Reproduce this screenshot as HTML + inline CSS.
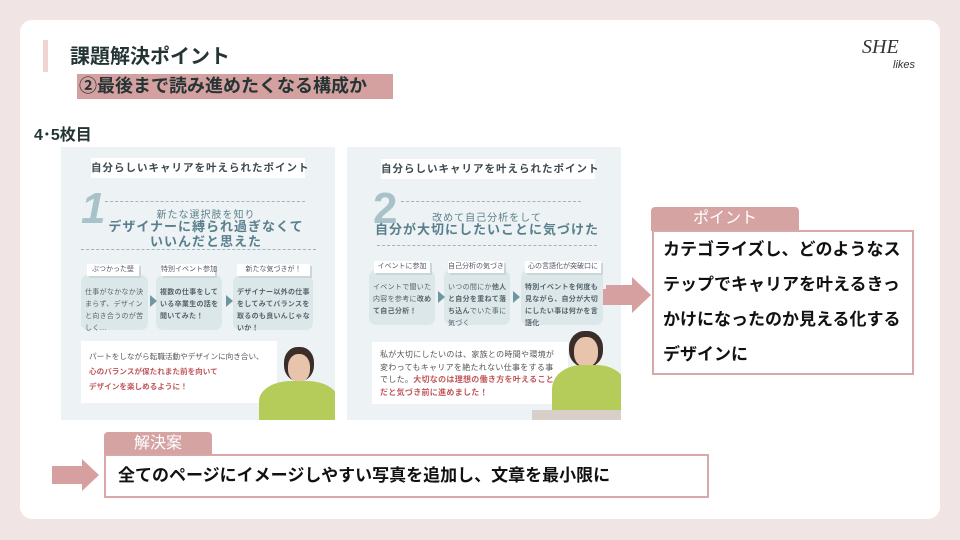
<!DOCTYPE html>
<html><head><meta charset="utf-8"><style>
*{margin:0;padding:0;box-sizing:border-box}
body{width:960px;height:540px;background:#f1e4e4;position:relative;overflow:hidden;font-family:"Liberation Sans","Noto Sans CJK JP",sans-serif}
.a{position:absolute;white-space:nowrap}
.card{left:20px;top:20px;width:920px;height:499px;background:#fff;border-radius:12px}
.img{background:#edf3f5;overflow:hidden}
.tb{background:#fff;color:#3e4a50;font-weight:bold;font-size:10.5px;text-align:center;line-height:20px;letter-spacing:1px}
.dash{border-top:1.5px dashed #9ab7c0;height:0}
.num{font-size:44px;font-weight:bold;font-style:italic;color:#a9c2ca;line-height:1}
.s1{font-size:10px;color:#5f7f8a;text-align:center;letter-spacing:1px}
.s2{font-size:13px;font-weight:bold;color:#5a7f8c;text-align:center;letter-spacing:1px;line-height:15px}
.bx{background:#dce7ea;border-radius:7px;font-size:7px;color:#55646a;line-height:12px;padding:12px 2px 0 4px;white-space:normal;letter-spacing:.3px}
.lb{background:#fff;font-size:7px;color:#556;text-align:center;line-height:12px;box-shadow:2px 2px 0 #c9d6da}
.tri{width:0;height:0;border-top:6px solid transparent;border-bottom:6px solid transparent;border-left:7px solid #6f96a3}
.wb{background:#fff;font-size:8px;color:#555;line-height:15px;padding:8px 8px;letter-spacing:.3px;white-space:normal}
.red{color:#c0565a;font-weight:bold}
</style></head><body>
<div class="a card"></div>
<div class="a" style="left:43px;top:40px;width:5px;height:32px;background:#f0d3d3"></div>
<div class="a" style="left:70px;top:40px;font-size:20px;font-weight:bold;color:#253535">課題解決ポイント</div>
<div class="a" style="left:77px;top:74px;width:316px;height:25px;background:#d4a0a0"></div>
<div class="a" style="left:79px;top:75px;font-size:18px;font-weight:bold;color:#253535;line-height:23px">②最後まで読み進めたくなる構成か</div>
<div class="a" style="left:34px;top:121px;font-size:16px;font-weight:bold;color:#253535">4･5枚目</div>
<div class="a" style="left:862px;top:36px;font-size:20px;font-style:italic;font-family:'Liberation Serif',serif;color:#333">SHE</div>
<div class="a" style="left:893px;top:59px;font-size:11px;color:#333;font-style:italic">likes</div>

<!-- image 1 -->
<div class="a img" style="left:61px;top:147px;width:274px;height:273px">
 <div class="a tb" style="left:30px;top:11px;width:214px">自分らしいキャリアを叶えられたポイント</div>
 <div class="a num" style="left:20px;top:40px">1</div>
 <div class="a dash" style="left:44px;top:54px;width:200px"></div>
 <div class="a s1" style="left:40px;top:59px;width:210px">新たな選択肢を知り</div>
 <div class="a s2" style="left:30px;top:72px;width:230px">デザイナーに縛られ過ぎなくて<br>いいんだと思えた</div>
 <div class="a dash" style="left:20px;top:102px;width:235px"></div>
 <div class="a bx" style="left:20px;top:128px;width:67px;height:55px">仕事がなかなか決まらず、デザインと向き合うのが苦しく…</div>
 <div class="a bx" style="left:95px;top:128px;width:66px;height:55px;font-weight:bold">複数の仕事をしている卒業生の話を聞いてみた！</div>
 <div class="a bx" style="left:172px;top:128px;width:80px;height:55px;font-weight:bold">デザイナー以外の仕事をしてみてバランスを取るのも良いんじゃないか！</div>
 <div class="a lb" style="left:26px;top:117px;width:52px">ぶつかった壁</div>
 <div class="a lb" style="left:100px;top:117px;width:54px">特別イベント参加</div>
 <div class="a lb" style="left:176px;top:117px;width:73px">新たな気づきが！</div>
 <div class="a tri" style="left:89px;top:148px"></div>
 <div class="a tri" style="left:165px;top:148px"></div>
 <div class="a wb" style="left:20px;top:194px;width:196px;height:62px;white-space:nowrap;font-size:7.6px;letter-spacing:0">パートをしながら転職活動やデザインに向き合い、<br><span class="red">心のバランスが保たれまた前を向いて<br>デザインを楽しめるように！</span></div>
 <div class="a" style="left:223px;top:200px;width:30px;height:34px;border-radius:45%;background:#3b2e2a"></div>
 <div class="a" style="left:227px;top:207px;width:22px;height:28px;border-radius:45%;background:#e9c4ad"></div>
 <div class="a" style="left:198px;top:234px;width:80px;height:50px;border-radius:40% 40% 0 0;background:#b5cc5a"></div>
</div>

<!-- image 2 -->
<div class="a img" style="left:347px;top:147px;width:274px;height:273px">
 <div class="a tb" style="left:34px;top:12px;width:214px">自分らしいキャリアを叶えられたポイント</div>
 <div class="a num" style="left:26px;top:40px;font-style:normal">2</div>
 <div class="a dash" style="left:54px;top:54px;width:180px"></div>
 <div class="a s1" style="left:30px;top:62px;width:220px">改めて自己分析をして</div>
 <div class="a s2" style="left:20px;top:75px;width:240px">自分が大切にしたいことに気づけた</div>
 <div class="a dash" style="left:30px;top:98px;width:220px"></div>
 <div class="a bx" style="left:22px;top:123px;width:66px;height:55px">イベントで聞いた内容を参考に<b>改めて自己分析！</b></div>
 <div class="a bx" style="left:97px;top:123px;width:66px;height:55px">いつの間にか<b>他人と自分を重ねて落ち込ん</b>でいた事に気づく</div>
 <div class="a bx" style="left:174px;top:123px;width:82px;height:55px;font-weight:bold">特別イベントを何度も見ながら、自分が大切にしたい事は何かを言語化</div>
 <div class="a lb" style="left:27px;top:114px;width:56px">イベントに参加</div>
 <div class="a lb" style="left:101px;top:114px;width:56px">自己分析の気づき</div>
 <div class="a lb" style="left:178px;top:114px;width:76px">心の言語化が突破口に</div>
 <div class="a tri" style="left:91px;top:144px"></div>
 <div class="a tri" style="left:166px;top:144px"></div>
 <div class="a" style="left:256px;top:142px;width:18px;height:16px;background:#d6a0a0"></div>
 <div class="a wb" style="left:25px;top:195px;width:196px;height:62px;line-height:12.5px;padding:7px 8px">私が大切にしたいのは、家族との時間や環境が変わってもキャリアを絶たれない仕事をする事でした。<span class="red">大切なのは理想の働き方を叶えることだと気づき前に進めました！</span></div>
 <div class="a" style="left:222px;top:184px;width:34px;height:36px;border-radius:45%;background:#3b2e2a"></div>
 <div class="a" style="left:227px;top:190px;width:24px;height:30px;border-radius:45%;background:#e9c4ad"></div>
 <div class="a" style="left:205px;top:218px;width:75px;height:60px;border-radius:40% 40% 0 0;background:#b5cc5a"></div>
 <div class="a" style="left:185px;top:263px;width:90px;height:12px;background:#d8cfc8"></div>
</div>

<!-- point -->
<svg class="a" style="left:606px;top:277px" width="46" height="36"><path d="M0 8H26V0L45 18L26 36V28H0Z" fill="#d6a0a0"/></svg>
<div class="a" style="left:651px;top:207px;width:148px;height:24px;background:#d6a3a3;border-radius:4px 4px 0 0;color:#fff;font-size:16px;text-align:center;line-height:24px">ポイント</div>
<div class="a" style="left:652px;top:230px;width:262px;height:145px;border:2px solid #d8a8a8;background:#fff;padding:0 0 0 9px;font-size:17px;font-weight:bold;color:#111;line-height:35px;white-space:normal">カテゴライズし、どのようなステップでキャリアを叶えるきっかけになったのか見える化するデザインに</div>

<!-- solution -->
<svg class="a" style="left:52px;top:459px" width="48" height="32"><path d="M0 7H30V0L47 16L30 32V25H0Z" fill="#d6a0a0"/></svg>
<div class="a" style="left:104px;top:432px;width:108px;height:23px;background:#d6a3a3;border-radius:4px 4px 0 0;color:#fff;font-size:16px;text-align:center;line-height:23px">解決案</div>
<div class="a" style="left:104px;top:454px;width:605px;height:44px;border:2px solid #d8a8a8;background:#fff;padding-left:12px;font-size:17px;font-weight:bold;color:#111;line-height:40px">全てのページにイメージしやすい写真を追加し、文章を最小限に</div>
</body></html>
